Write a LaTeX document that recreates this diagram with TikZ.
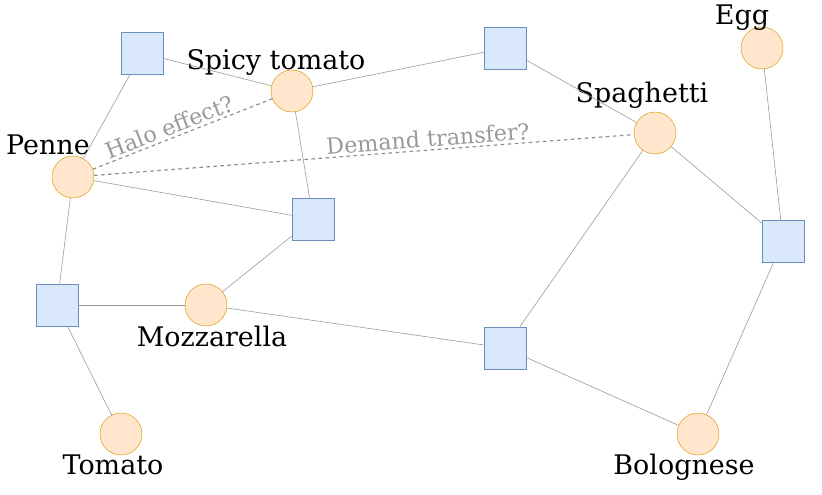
\documentclass[tikz,border=0pt]{standalone}
\usepackage{fontspec}
\setmainfont{DejaVu Serif}
\definecolor{boxfill}{HTML}{DAE8FC}
\definecolor{boxline}{HTML}{6C8EBF}
\definecolor{dotfill}{HTML}{FFE6CC}
\definecolor{dotline}{HTML}{D79B00}
\tikzset{
  basket/.style={draw=boxline, fill=boxfill, minimum size=1.26cm, inner sep=0pt},
  item/.style={circle, draw=dotline, fill=dotfill, minimum size=1.26cm, inner sep=0pt},
  lbl/.style={font=\fontsize{23}{27}\selectfont},
  link/.style={draw=gray!80, line width=0.5pt},
  guess/.style={draw=gray!90, dashed, line width=1pt},
  note/.style={text=gray!80, font=\fontsize{19}{22}\selectfont, sloped, above, inner sep=2pt}
}
\begin{document}
\begin{tikzpicture}[x=0.03cm, y=-0.03cm]
        \useasboundingbox (0,0) rectangle (822,494);
        % Baskets
        \node[basket] (b1) at (142,53) {};
        \node[basket] (b2) at (505,48) {};
        \node[basket] (b3) at (313,219) {};
        \node[basket] (b4) at (57,305) {};
        \node[basket] (b5) at (505,348) {};
        \node[basket] (b6) at (783,241) {};

        % Products
        \node[item] (penne) at (73,177) {};
        \node[item] (spicy) at (292,91) {};
        \node[item] (spag) at (655,133) {};
        \node[item] (egg) at (762,48) {};
        \node[item] (mozz) at (206,305) {};
        \node[item] (tomato) at (121,434) {};
        \node[item] (bolo) at (698,434) {};

        % Product labels
        \node[lbl] at (48,145) {Penne};
        \node[lbl] at (276,62) {Spicy tomato};
        \node[lbl] at (642,95) {Spaghetti};
        \node[lbl] at (742,18) {Egg};
        \node[lbl] at (212,336) {Mozzarella};
        \node[lbl] at (113,465) {Tomato};
        \node[lbl] at (684,467) {Bolognese};

        % Basket links
        \foreach \a/\b in {b1/penne, b1/spicy, spicy/b2, b2/spag, spicy/b3, penne/b3, b3/mozz, penne/b4, b4/mozz, b4/tomato, mozz/b5, b5/spag, b5/bolo, spag/b6, egg/b6, b6/bolo}
            \draw[link] (\a) -- (\b);

        % Open questions
        \draw[guess] (penne) -- node[note, pos=0.45] {Halo effect?} (spicy);
        \draw[guess] (penne) -- node[note, pos=0.62] {Demand transfer?} (spag);
\end{tikzpicture}
\end{document}
